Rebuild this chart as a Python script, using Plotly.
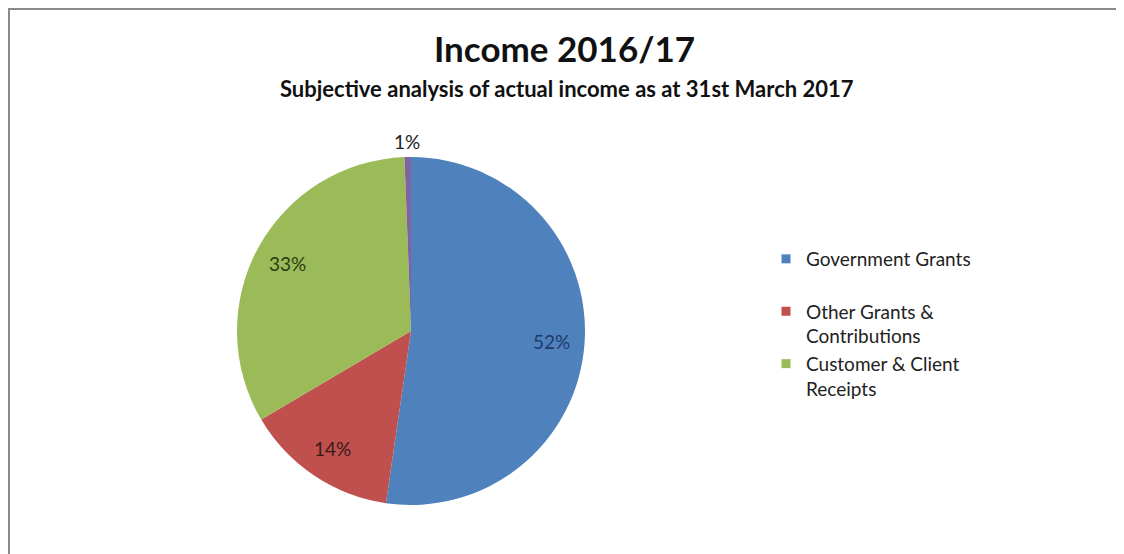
import math
import plotly.graph_objects as go

# ---- data ----
slice_labels = ["Government Grants", "Other Grants & Contributions",
                "Customer & Client Receipts", "Other"]
slice_values = [52.3, 14.2, 32.9, 0.6]
slice_colors = ["#4F81BD", "#C0504D", "#9BBB59", "#8064A2"]
label_colors = ["#1F3A6B", "#3A1A1A", "#2D3B14", "#222222"]
legend_names = ["Government Grants<br> ", "Other Grants &<br>Contributions",
                "Customer & Client<br>Receipts"]
title_text = "Income 2016/17"
subtitle_text = "Subjective analysis of actual income as at 31st March 2017"

W, H = 1124, 554
FONT = "Lato"
CX, CY, R = 403, 323, 174          # pie centre / radius in figure pixels

fig = go.Figure()

fig.add_trace(go.Pie(
    labels=slice_labels,
    values=slice_values,
    marker=dict(colors=slice_colors, line=dict(width=0)),
    sort=False,
    direction="clockwise",
    rotation=0,
    textinfo="none",
    showlegend=False,
    hoverinfo="label+percent",
    domain=dict(x=[(CX - R) / W, (CX + R) / W],
                y=[(H - CY - R) / H, (H - CY + R) / H]),
))

# legend proxies (pie legend cannot hide a single slice)
for i, name in enumerate(legend_names):
    fig.add_trace(go.Scatter(
        x=[None], y=[None], mode="markers", name=name,
        legendgroup=f"g{i}",
        marker=dict(symbol="square", size=9, color=slice_colors[i]),
    ))

# percentage labels placed Excel-style along each slice's mid angle
total = sum(slice_values)
annotations = []
cum = 0.0
for i, v in enumerate(slice_values):
    mid = (cum + v / 2) / total * 2 * math.pi
    cum += v
    f = 0.81 if v / total > 0.05 else 1.09
    px = CX + R * f * math.sin(mid)
    py = CY - R * f * math.cos(mid)
    annotations.append(dict(
        text=f"{round(v / total * 100)}%", x=px / W, y=1 - py / H,
        xref="paper", yref="paper", xanchor="center", yanchor="middle",
        showarrow=False, font=dict(family=FONT, size=19, color=label_colors[i])))

annotations += [
    dict(text=f"<b>{title_text}</b>", x=556 / W, y=1 - 40 / H,
         xref="paper", yref="paper", xanchor="center", yanchor="middle",
         showarrow=False, font=dict(family=FONT, size=35, color="#111111")),
    dict(text=f"<b>{subtitle_text}</b>", x=559 / W, y=1 - 80 / H,
         xref="paper", yref="paper", xanchor="center", yanchor="middle",
         showarrow=False, font=dict(family=FONT, size=22, color="#111111")),
]

fig.update_layout(
    width=W, height=H,
    margin=dict(l=0, r=0, t=0, b=0),
    paper_bgcolor="white", plot_bgcolor="white",
    xaxis=dict(visible=False), yaxis=dict(visible=False),
    legend=dict(
        x=758 / W, y=1 - 232 / H, xanchor="left", yanchor="top",
        font=dict(family=FONT, size=19, color="#222222"),
        valign="top", tracegroupgap=0, itemwidth=30,
        bgcolor="rgba(0,0,0,0)",
    ),
    annotations=annotations,
    shapes=[
        dict(type="line", xref="paper", yref="paper",
             x0=0, x1=1, y0=1 - 1 / H, y1=1 - 1 / H,
             line=dict(color="#8a8a8a", width=2)),
        dict(type="line", xref="paper", yref="paper",
             x0=1 / W, x1=1 / W, y0=0, y1=1,
             line=dict(color="#8a8a8a", width=2)),
        dict(type="line", xref="paper", yref="paper",
             x0=1110 / W, x1=1110 / W, y0=0, y1=1,
             line=dict(color="#eeeeee", width=1)),
    ],
)

fig.write_html("out.html")
